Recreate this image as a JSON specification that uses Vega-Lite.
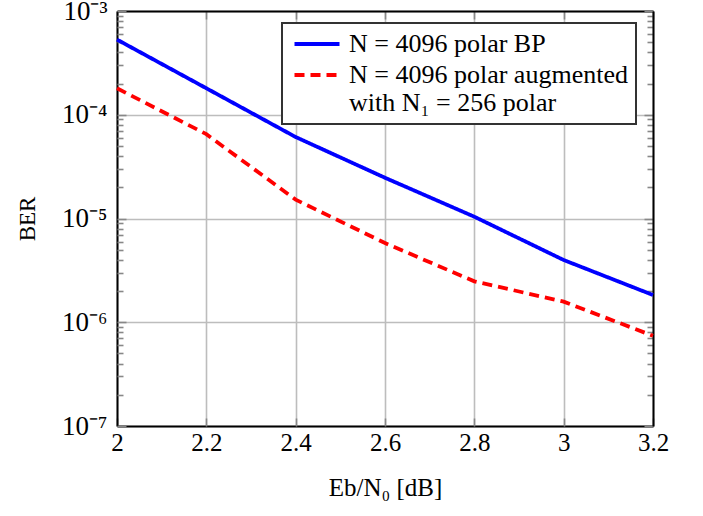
{
  "$schema": "https://vega.github.io/schema/vega-lite/v6.json",
  "autosize": {"type": "none"},
  "padding": {"left": 117, "top": 11, "right": 50, "bottom": 90},
  "width": 536,
  "height": 415,
  "background": "white",
  "data": {"values": [
    {"x": 2.0, "ber": 5.3e-4, "series": "BP"},
    {"x": 2.2, "ber": 1.8e-4, "series": "BP"},
    {"x": 2.4, "ber": 6.1e-5, "series": "BP"},
    {"x": 2.6, "ber": 2.47e-5, "series": "BP"},
    {"x": 2.8, "ber": 1.04e-5, "series": "BP"},
    {"x": 3.0, "ber": 3.98e-6, "series": "BP"},
    {"x": 3.2, "ber": 1.83e-6, "series": "BP"},
    {"x": 2.0, "ber": 1.8e-4, "series": "AUG"},
    {"x": 2.2, "ber": 6.5e-5, "series": "AUG"},
    {"x": 2.4, "ber": 1.52e-5, "series": "AUG"},
    {"x": 2.6, "ber": 5.8e-6, "series": "AUG"},
    {"x": 2.8, "ber": 2.48e-6, "series": "AUG"},
    {"x": 3.0, "ber": 1.58e-6, "series": "AUG"},
    {"x": 3.2, "ber": 7.4e-7, "series": "AUG"}
  ]},
  "resolve": {"axis": {"x": "independent", "y": "independent"}},
  "layer": [
    {
      "mark": {"type": "line", "strokeWidth": 3.8},
      "encoding": {
        "x": {"field": "x", "type": "quantitative",
          "scale": {"domain": [2, 3.2], "nice": false, "zero": false},
          "axis": {"orient": "bottom", "values": [2, 2.2, 2.4, 2.6, 2.8, 3.0, 3.2], "format": "~g",
            "grid": true, "ticks": false, "labels": true, "domain": true,
            "title": "Eb/N₀ [dB]", "labelPadding": 4, "titlePadding": 20}},
        "y": {"field": "ber", "type": "quantitative",
          "scale": {"type": "log", "domain": [1e-7, 1e-3], "nice": false},
          "axis": {"orient": "left", "values": [1e-7, 1e-6, 1e-5, 1e-4, 1e-3],
            "grid": true, "ticks": false, "labels": true, "domain": true,
            "labelFontSize": 27,
            "labelExpr": "'10⁻' + ['⁰','¹','²','³','⁴','⁵','⁶','⁷'][round(-log(datum.value)/LN10)]",
            "title": "BER", "titleFontSize": 23, "labelPadding": 10, "titlePadding": 22}},
        "color": {"field": "series", "type": "nominal", "title": null,
          "scale": {"domain": ["BP", "AUG"], "range": ["#0000ff", "#ff0000"]},
          "legend": {"labelExpr": "datum.label == 'BP' ? 'N = 4096 polar BP' : ['N = 4096 polar augmented', 'with N₁ = 256 polar']"}},
        "strokeDash": {"field": "series", "type": "nominal", "title": null,
          "scale": {"domain": ["BP", "AUG"], "range": [[1, 0], [10, 6]]},
          "legend": {"labelExpr": "datum.label == 'BP' ? 'N = 4096 polar BP' : ['N = 4096 polar augmented', 'with N₁ = 256 polar']"}}
      }
    },
    {
      "mark": {"type": "line", "opacity": 0},
      "encoding": {
        "x": {"field": "x", "type": "quantitative",
          "axis": {"orient": "top", "values": [2, 2.2, 2.4, 2.6, 2.8, 3.0, 3.2],
            "grid": false, "labels": false, "ticks": true, "tickSize": -8, "domain": true, "title": null}},
        "y": {"field": "ber", "type": "quantitative",
          "axis": {"orient": "right",
            "values": [1e-7, 2e-7, 3e-7, 4e-7, 5e-7, 6e-7, 7e-7, 8e-7, 9e-7, 1e-6, 2e-6, 3e-6, 4e-6, 5e-6, 6e-6, 7e-6, 8e-6, 9e-6, 1e-5, 2e-5, 3e-5, 4e-5, 5e-5, 6e-5, 7e-5, 8e-5, 9e-5, 1e-4, 2e-4, 3e-4, 4e-4, 5e-4, 6e-4, 7e-4, 8e-4, 9e-4, 1e-3],
            "grid": false, "labels": false, "ticks": true, "domain": true, "title": null,
            "tickSize": {"condition": {"test": "abs(log(datum.value)/LN10 - round(log(datum.value)/LN10)) < 0.01", "value": -9}, "value": -6}}},
        "detail": {"field": "series"}
      }
    },
    {
      "mark": {"type": "line", "opacity": 0},
      "encoding": {
        "x": {"field": "x", "type": "quantitative",
          "axis": {"orient": "bottom", "values": [2, 2.2, 2.4, 2.6, 2.8, 3.0, 3.2],
            "grid": false, "labels": false, "ticks": true, "tickSize": -8, "domain": false, "title": null}},
        "y": {"field": "ber", "type": "quantitative",
          "axis": {"orient": "left",
            "values": [1e-7, 2e-7, 3e-7, 4e-7, 5e-7, 6e-7, 7e-7, 8e-7, 9e-7, 1e-6, 2e-6, 3e-6, 4e-6, 5e-6, 6e-6, 7e-6, 8e-6, 9e-6, 1e-5, 2e-5, 3e-5, 4e-5, 5e-5, 6e-5, 7e-5, 8e-5, 9e-5, 1e-4, 2e-4, 3e-4, 4e-4, 5e-4, 6e-4, 7e-4, 8e-4, 9e-4, 1e-3],
            "grid": false, "labels": false, "ticks": true, "domain": false, "title": null,
            "tickSize": {"condition": {"test": "abs(log(datum.value)/LN10 - round(log(datum.value)/LN10)) < 0.01", "value": -9}, "value": -6}}},
        "detail": {"field": "series"}
      }
    }
  ],
  "config": {
    "font": "Liberation Serif",
    "view": {"stroke": null},
    "axis": {
      "labelFont": "Liberation Serif", "titleFont": "Liberation Serif",
      "labelFontSize": 25, "titleFontSize": 25, "titleFontWeight": "normal",
      "labelColor": "black", "titleColor": "black",
      "labelFlush": false, "labelOverlap": false, "labelBound": false,
      "domainColor": "black", "domainWidth": 2,
      "gridColor": "#bdbdbd", "gridWidth": 1.6, "gridOpacity": 1,
      "tickColor": "#888888", "tickWidth": 1.6
    },
    "legend": {
      "orient": "none", "legendX": 165, "legendY": 12,
      "strokeColor": "#333333", "strokeWidth": 2, "fillColor": "white",
      "padding": 8, "cornerRadius": 0,
      "symbolType": "M-2.5,0H2.5", "symbolSize": 324, "symbolStrokeWidth": 4,
      "labelFont": "Liberation Serif", "labelFontSize": 26, "labelColor": "black",
      "labelLimit": 0, "labelOffset": 19, "rowPadding": 5, "symbolOffset": 14
    }
  }
}
